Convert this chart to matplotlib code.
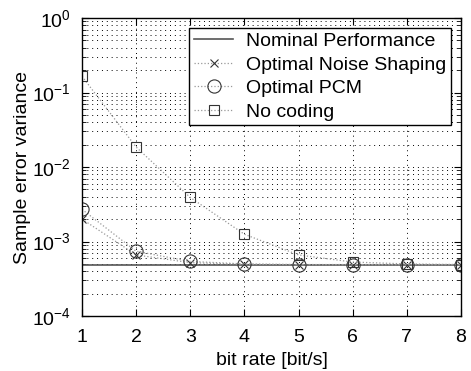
import numpy as np
import matplotlib
matplotlib.use("Agg")
import matplotlib.pyplot as plt

plt.rcParams['font.family'] = ['Liberation Sans', 'DejaVu Sans']
plt.rcParams['mathtext.fontset'] = 'custom'
plt.rcParams['mathtext.rm'] = 'Liberation Sans'

bit_rate = [1, 2, 3, 4, 5, 6, 7, 8]
nominal = [4.9e-4] * 8
noise_shaping = [2.0e-3, 6.6e-4, 5.2e-4, 4.95e-4, 4.9e-4, 4.9e-4, 4.9e-4, 4.9e-4]
optimal_pcm = [2.7e-3, 7.4e-4, 5.4e-4, 5.0e-4, 4.9e-4, 4.9e-4, 4.9e-4, 4.9e-4]
no_coding = [1.65e-1, 1.85e-2, 3.9e-3, 1.25e-3, 6.6e-4, 5.3e-4, 5.0e-4, 4.9e-4]

fig = plt.figure(figsize=(4.71, 3.71), dpi=100)
ax = fig.add_axes([82 / 471, 55 / 371, 379 / 471, 298 / 371])

ax.semilogy(bit_rate, nominal, '-', color='#555555', lw=1.2, label='Nominal Performance')
ax.semilogy(bit_rate, noise_shaping, ':', color='#999999', lw=0.9, marker='x', ms=6,
            mec='#333333', mfc='none', mew=0.8, label='Optimal Noise Shaping')
ax.semilogy(bit_rate, optimal_pcm, ':', color='#999999', lw=0.9, marker='o', ms=9.5,
            mec='#333333', mfc='none', mew=0.8, label='Optimal PCM')
ax.semilogy(bit_rate, no_coding, ':', color='#999999', lw=0.9, marker='s', ms=7.5,
            mec='#333333', mfc='none', mew=0.8, label='No coding')

ax.set_xlim(1, 8)
ax.set_ylim(1e-4, 1)
ax.set_xticks(bit_rate)
ax.set_yticks([1e-4, 1e-3, 1e-2, 1e-1, 1])
ax.grid(True, which='major', axis='both', linestyle=(0, (1, 4)), color='black', lw=0.7)
ax.grid(True, which='minor', axis='y', linestyle=(0, (1, 4)), color='black', lw=0.7)
ax.tick_params(which='both', direction='in', top=True, right=True, labelsize=14)
ax.tick_params(which='major', length=5)
ax.tick_params(which='minor', length=3)
ax.tick_params(axis='x', which='major', pad=9)
ax.tick_params(axis='y', which='major', pad=8)
for s in ax.spines.values():
    s.set_linewidth(1.0)

ax.set_xlabel('bit rate [bit/s]', fontsize=14, labelpad=5)
ax.set_ylabel('Sample error variance', fontsize=14, labelpad=1)

leg = ax.legend(loc='upper right', fontsize=14, frameon=True, fancybox=False,
                edgecolor='black', framealpha=1, borderpad=0.25, labelspacing=0.3,
                handlelength=2.0, handletextpad=0.67, borderaxespad=0.5)
leg.get_frame().set_linewidth(1.0)

fig.savefig('out.png', dpi=100)
